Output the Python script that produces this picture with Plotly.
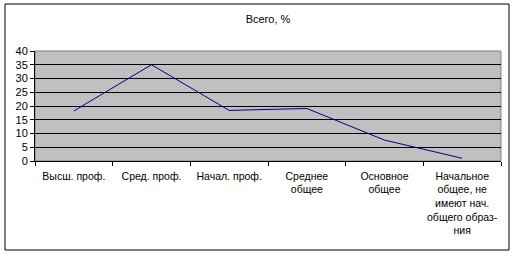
import plotly.graph_objects as go

categories = ["Высш. проф.", "Сред. проф.", "Начал. проф.", "Среднее<br>общее",
              "Основное<br>общее",
              "Начальное<br>общее, не<br>имеют нач.<br>общего образ-<br>ния"]
values = [18.2, 35.0, 18.4, 19.1, 7.6, 1.0]
y_ticks = [0, 5, 10, 15, 20, 25, 30, 35, 40]

W, H = 514, 256
L, R, T, B = 35, 13, 51, 95
pw, ph = W - L - R, H - T - B

def px_x(x):
    return (x - L) / pw

def px_y(y):
    return (H - B - y) / ph

fig = go.Figure()
fig.add_trace(go.Scatter(x=categories, y=values, mode="lines",
                         line=dict(color="#000080", width=1)))

fig.update_layout(
    width=W, height=H,
    margin=dict(l=L, r=R, t=T, b=B, autoexpand=False),
    paper_bgcolor="white",
    plot_bgcolor="#C0C0C0",
    showlegend=False,
    font=dict(family="Liberation Sans, Arial", size=11, color="black"),
    title=dict(text="Всего, %", x=0.5, xref="paper", xanchor="center",
               y=1 - 19 / H, yanchor="middle", font=dict(size=11)),
    xaxis=dict(type="category", tickson="boundaries", ticks="outside", ticklen=4,
               tickcolor="black", showline=True, linecolor="black", linewidth=1,
               showgrid=False, range=[-0.5, 5.5], tickangle=0, automargin=False,
               ticklabelstandoff=5, tickfont=dict(size=10.5)),
    yaxis=dict(range=[0, 40], tickvals=y_ticks, ticks="outside", ticklen=4,
               tickcolor="black", showline=True, linecolor="black", linewidth=1,
               showgrid=True, gridcolor="black", gridwidth=1, zeroline=False,
               automargin=False, tickfont=dict(size=11)),
    shapes=[
        dict(type="rect", xref="paper", yref="paper", x0=0, x1=1, y0=0, y1=1,
             line=dict(color="#808080", width=1), layer="between"),
        dict(type="rect", xref="paper", yref="paper",
             x0=px_x(5), x1=px_x(509), y0=px_y(250), y1=px_y(4),
             line=dict(color="black", width=1)),
    ],
)

fig.write_html("out.html")
